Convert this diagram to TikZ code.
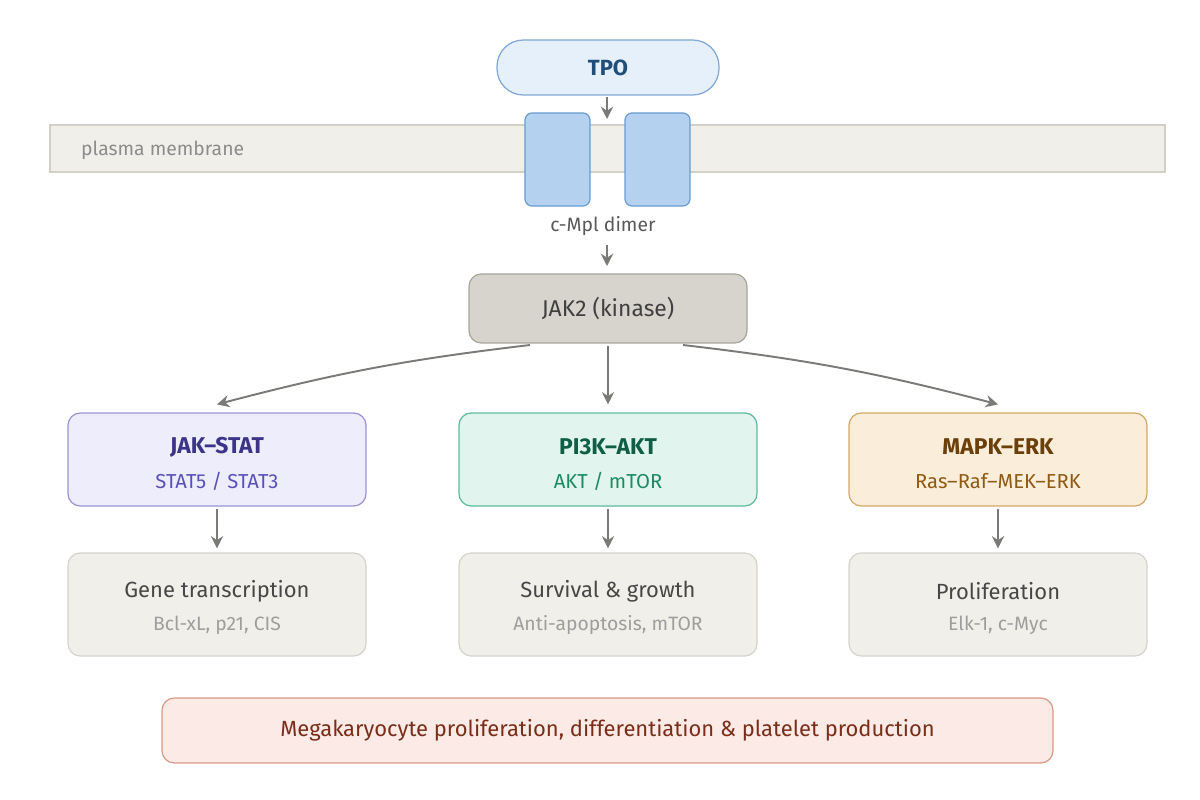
\documentclass[tikz,border=0pt]{standalone}
\usepackage{fontspec}
\setmainfont{Fira Sans}
\usetikzlibrary{arrows.meta}
\definecolor{arr}{HTML}{7A7A76}
\definecolor{memf}{HTML}{F1EFEA}\definecolor{memb}{HTML}{D2CFC7}
\definecolor{tpof}{HTML}{E6F0FA}\definecolor{tpob}{HTML}{7FA7D6}\definecolor{tpot}{HTML}{1F4E79}
\definecolor{jf}{HTML}{D6D4CC}\definecolor{jb}{HTML}{A8A59C}
\begin{document}
\begin{tikzpicture}[x=0.02cm,y=-0.02cm,
  box/.style={draw,rounded corners=7pt,line width=0.7pt,inner sep=0pt},
  ar/.style={draw=arr,line width=1.1pt,-{Stealth[length=7pt,width=7pt]}},
  t1/.style={font=\fontsize{12.5}{14}\selectfont},
  t2/.style={font=\fontsize{11}{13}\selectfont}]
\useasboundingbox (0,0) rectangle (1200,800);
% membrane
\node[draw=memb,fill=memf,line width=0.7pt,minimum width=1115*0.02cm,minimum height=47*0.02cm,inner sep=0pt] (mem) at (607.5,148.5) {};
\node[t2,text=black!45,anchor=west] (memt) at (75,150) {plasma membrane};
% TPO
\node[draw=tpob,fill=tpof,line width=0.7pt,rounded corners=15pt,minimum width=222*0.02cm,minimum height=55*0.02cm] (tpo) at (608,67.5) {};
\node[text=tpot,font=\bfseries\fontsize{12.5}{14}\selectfont] at (tpo) {TPO};
% receptors
\definecolor{rf}{HTML}{B4D2F0}\definecolor{rb}{HTML}{6A9BD1}
\node[box,draw=rb,fill=rf,rounded corners=4pt,minimum width=65*0.02cm,minimum height=93*0.02cm] (r1) at (557.5,159.5) {};
\node[box,draw=rb,fill=rf,rounded corners=4pt,minimum width=65*0.02cm,minimum height=93*0.02cm] (r2) at (657.5,159.5) {};
\node[t2,text=black!65] (cmpl) at (603,226) {c-Mpl dimer};
\coordinate (a1) at (607,97); \coordinate (a1e) at (607,119);
\draw[ar] (a1) -- (a1e);
% JAK2
\node[box,draw=jb,fill=jf,minimum width=278*0.02cm,minimum height=69*0.02cm] (jak) at (608,308.5) {};
\node[t1,text=black!75,font=\fontsize{13}{15}\selectfont] at (jak) {JAK2 (kinase)};
\coordinate (c1) at (607,245); \coordinate (c2) at (607,266);
\draw[ar] (c1) -- (c2);
% pathway boxes
\definecolor{f1}{HTML}{EEEDFC}\definecolor{b1}{HTML}{9A93D6}\definecolor{t1c}{HTML}{3C3489}\definecolor{s1c}{HTML}{5A50B8}
\definecolor{f2}{HTML}{E1F5EE}\definecolor{b2}{HTML}{5DBB98}\definecolor{t2c}{HTML}{0F5E45}\definecolor{s2c}{HTML}{1D8A63}
\definecolor{f3}{HTML}{FAEEDA}\definecolor{b3}{HTML}{D3A865}\definecolor{t3c}{HTML}{6B3F0A}\definecolor{s3c}{HTML}{8F5A14}
\definecolor{gf}{HTML}{F1EFE9}\definecolor{gb}{HTML}{D6D3CB}
\foreach \n/\x/\f/\b/\c/\s/\ta/\tb/\ga/\gb in {
  p1/217/f1/b1/t1c/s1c/{JAK–STAT}/{STAT5 / STAT3}/{Gene transcription}/{Bcl-xL, p21, CIS},
  p2/608/f2/b2/t2c/s2c/{PI3K–AKT}/{AKT / mTOR}/{Survival \& growth}/{Anti-apoptosis, mTOR},
  p3/998/f3/b3/t3c/s3c/{MAPK–ERK}/{Ras–Raf–MEK–ERK}/{Proliferation}/{Elk-1, c-Myc}}{
  \node[box,draw=\b,fill=\f,minimum width=298*0.02cm,minimum height=93*0.02cm] (\n) at (\x,459.5) {};
  \node[text=\c,font=\fontsize{13}{15}\selectfont\bfseries] at (\x,447) {\ta};
  \node[t2,text=\s,font=\fontsize{11.5}{13}\selectfont] at (\x,481) {\tb};
  \node[box,draw=gb,fill=gf,minimum width=298*0.02cm,minimum height=103*0.02cm] (\n g) at (\x,604.5) {};
  \node[t1,text=black!72] at (\x,591) {\ga};
  \node[t2,text=black!38] at (\x,625) {\gb};
  \draw[ar] (\n.south) ++(0,2) -- ([yshift=0.08cm]\n g.north);
}
\draw[ar] (530,345) to[bend left=-4] ([yshift=0.16cm]p1.north);
\draw[ar] (jak.south) ++(0,2) -- ([yshift=0.16cm]p2.north);
\draw[ar] (683,345) to[bend left=4] ([yshift=0.16cm]p3.north);
% bottom
\definecolor{bf}{HTML}{FBEAE5}\definecolor{bb}{HTML}{D99A86}\definecolor{bt}{HTML}{7A2E1A}
\node[box,draw=bb,fill=bf,minimum width=891*0.02cm,minimum height=65*0.02cm] (bot) at (607.5,730.5) {};
\node[text=bt,font=\fontsize{12.5}{14}\selectfont\mdseries] at (bot) {Megakaryocyte proliferation, differentiation \& platelet production};
\end{tikzpicture}
\end{document}
